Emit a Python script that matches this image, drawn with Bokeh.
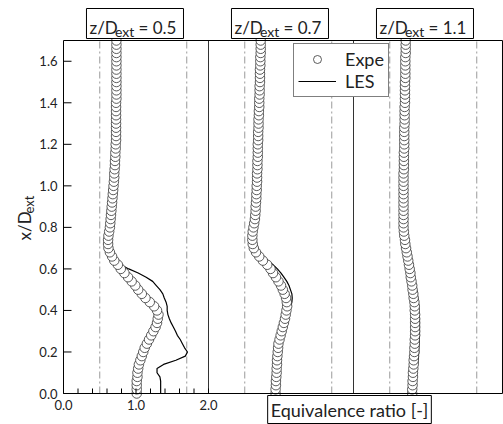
import math
from bokeh.plotting import figure
from bokeh.models import Range1d, Label, Legend, LegendItem
from bokeh.core.properties import value
from bokeh.embed import file_html
from bokeh.resources import INLINE

FONT = "Lato"

# ---------------- data ----------------
PANEL_OFFSET = [0.0, 2.0, 4.0]
PANEL_TITLE = ["0.5", "0.7", "1.1"]
DASH_REL = [0.5, 1.7]
X_TICKS = [0.0, 1.0, 2.0]
X_TICK_LABELS = ["0.0", "1.0", "2.0"]
X_MINOR = [0.2, 0.4, 0.6, 0.8, 1.2, 1.4, 1.6, 1.8]
Y_TICKS = [0.0, 0.2, 0.4, 0.6, 0.8, 1.0, 1.2, 1.4, 1.6]
Y_TICK_LABELS = ["0.0", "0.2", "0.4", "0.6", "0.8", "1.0", "1.2", "1.4", "1.6"]
X_MAX = 6.055
Y_MAX = 1.70

Y_EXP = [0.00, 0.02, 0.04, 0.06, 0.08, 0.10, 0.12, 0.14, 0.16, 0.18,
         0.20, 0.22, 0.24, 0.26, 0.28, 0.30, 0.32, 0.34, 0.36, 0.38,
         0.40, 0.42, 0.44, 0.46, 0.48, 0.50, 0.52, 0.54, 0.56, 0.58,
         0.60, 0.62, 0.64, 0.66, 0.68, 0.70, 0.72, 0.74, 0.76, 0.78,
         0.80, 0.82, 0.84, 0.86, 0.88, 0.90, 0.92, 0.94, 0.96, 0.98,
         1.00, 1.02, 1.04, 1.06, 1.08, 1.10, 1.12, 1.14, 1.16, 1.18,
         1.20, 1.22, 1.24, 1.26, 1.28, 1.30, 1.32, 1.34, 1.36, 1.38,
         1.40, 1.42, 1.44, 1.46, 1.48, 1.50, 1.52, 1.54, 1.56, 1.58,
         1.60, 1.62, 1.64, 1.66, 1.68, 1.70]

EXP_05 = [1.01, 1.01, 1.01, 1.01, 1.02, 1.02, 1.03, 1.04, 1.06, 1.08,
          1.10, 1.12, 1.15, 1.18, 1.21, 1.24, 1.27, 1.29, 1.30, 1.31,
          1.29, 1.25, 1.19, 1.13, 1.08, 1.03, 0.99, 0.94, 0.89, 0.84,
          0.79, 0.75, 0.70, 0.67, 0.64, 0.62, 0.615, 0.615, 0.62, 0.63,
          0.64, 0.645, 0.65, 0.655, 0.66, 0.665, 0.67, 0.675, 0.68, 0.685,
          0.69, 0.695, 0.70, 0.70, 0.705, 0.71, 0.71, 0.715, 0.715, 0.72,
          0.72, 0.725, 0.725, 0.725, 0.725, 0.725, 0.725, 0.725, 0.725, 0.725,
          0.725, 0.73, 0.73, 0.73, 0.73, 0.73, 0.73, 0.73, 0.73, 0.73,
          0.73, 0.73, 0.73, 0.73, 0.73, 0.73]

EXP_07 = [0.925, 0.925, 0.93, 0.93, 0.935, 0.94, 0.94, 0.945, 0.945, 0.95,
          0.955, 0.96, 0.965, 0.98, 0.995, 1.01, 1.025, 1.04, 1.055, 1.065,
          1.075, 1.085, 1.08, 1.07, 1.05, 1.025, 1.00, 0.965, 0.93, 0.89,
          0.855, 0.81, 0.75, 0.70, 0.655, 0.625, 0.61, 0.605, 0.605, 0.61,
          0.62, 0.63, 0.64, 0.645, 0.65, 0.65, 0.655, 0.66, 0.66, 0.665,
          0.665, 0.67, 0.67, 0.67, 0.675, 0.675, 0.675, 0.68, 0.68, 0.68,
          0.68, 0.685, 0.685, 0.685, 0.69, 0.69, 0.69, 0.695, 0.695, 0.70,
          0.70, 0.70, 0.705, 0.705, 0.705, 0.71, 0.71, 0.71, 0.71, 0.715,
          0.715, 0.715, 0.72, 0.72, 0.72, 0.72]

EXP_11 = [0.81, 0.81, 0.815, 0.815, 0.82, 0.82, 0.825, 0.83, 0.83, 0.835,
          0.84, 0.84, 0.845, 0.845, 0.85, 0.85, 0.85, 0.85, 0.85, 0.85,
          0.845, 0.845, 0.84, 0.83, 0.825, 0.815, 0.81, 0.80, 0.79, 0.785,
          0.775, 0.765, 0.755, 0.745, 0.735, 0.725, 0.715, 0.71, 0.70, 0.695,
          0.69, 0.69, 0.69, 0.69, 0.69, 0.69, 0.69, 0.69, 0.69, 0.69,
          0.69, 0.69, 0.69, 0.69, 0.695, 0.695, 0.695, 0.695, 0.695, 0.70,
          0.70, 0.70, 0.70, 0.70, 0.70, 0.705, 0.705, 0.705, 0.705, 0.705,
          0.71, 0.71, 0.71, 0.71, 0.71, 0.71, 0.715, 0.715, 0.715, 0.715,
          0.715, 0.715, 0.72, 0.72, 0.72, 0.72]

Y_LES = [0.00, 0.02, 0.04, 0.06, 0.08, 0.10, 0.12, 0.14, 0.16, 0.18,
         0.20, 0.22, 0.24, 0.26, 0.28, 0.30, 0.32, 0.34, 0.36, 0.38,
         0.40, 0.42, 0.44, 0.46, 0.48, 0.50, 0.52, 0.54, 0.56, 0.58,
         0.60, 0.62, 0.64, 0.66, 0.68, 0.70, 0.72, 0.74, 0.76, 0.78,
         0.80, 0.82, 0.84, 0.86, 0.88, 0.90,
         1.0, 1.1, 1.2, 1.3, 1.4, 1.5, 1.6, 1.7]

LES_05 = [1.34, 1.34, 1.34, 1.34, 1.33, 1.29, 1.29, 1.38, 1.55, 1.68,
          1.71, 1.67, 1.64, 1.61, 1.57, 1.545, 1.515, 1.485, 1.46, 1.44,
          1.43, 1.43, 1.415, 1.39, 1.37, 1.33, 1.28, 1.23, 1.14, 1.03,
          0.90, 0.79, 0.71, 0.66, 0.63, 0.61, 0.605, 0.61, 0.615, 0.625,
          0.635, 0.64, 0.645, 0.65, 0.655, 0.66,
          0.685, 0.705, 0.715, 0.72, 0.725, 0.725, 0.73, 0.73]

LES_07 = [0.90, 0.90, 0.90, 0.90, 0.90, 0.90, 0.90, 0.90, 0.90, 0.90,
          0.91, 0.93, 0.96, 0.985, 1.01, 1.03, 1.045, 1.06, 1.075, 1.09,
          1.11, 1.135, 1.15, 1.155, 1.15, 1.13, 1.11, 1.08, 1.04, 1.00,
          0.95, 0.89, 0.82, 0.76, 0.71, 0.67, 0.64, 0.625, 0.615, 0.615,
          0.62, 0.63, 0.635, 0.645, 0.65, 0.65,
          0.665, 0.675, 0.68, 0.69, 0.70, 0.71, 0.715, 0.72]

LES_11 = [0.84, 0.84, 0.85, 0.855, 0.86, 0.865, 0.875, 0.885, 0.89, 0.895,
          0.90, 0.90, 0.905, 0.905, 0.91, 0.91, 0.91, 0.91, 0.91, 0.905,
          0.90, 0.90, 0.895, 0.885, 0.88, 0.87, 0.86, 0.85, 0.84, 0.83,
          0.82, 0.805, 0.79, 0.775, 0.76, 0.745, 0.73, 0.72, 0.71, 0.70,
          0.695, 0.695, 0.695, 0.695, 0.695, 0.695,
          0.695, 0.70, 0.70, 0.705, 0.71, 0.71, 0.715, 0.72]

EXP = [EXP_05, EXP_07, EXP_11]
LES = [LES_05, LES_07, LES_11]

# ---------------- scales (pixels per data unit) ----------------
SX = 72.5
SY = 353 / Y_MAX
def dx(px):
    return px / SX
def dy(px):
    return px / SY

TXT = "#222222"

p = figure(width=503, height=424, output_backend="svg", toolbar_location=None,
           x_range=Range1d(-dx(63), dx(440)), y_range=Range1d(-dy(31), dy(393)),
           x_axis_location=None, y_axis_location=None,
           min_border=0, min_border_left=0, min_border_right=0,
           min_border_top=0, min_border_bottom=0)
p.outline_line_color = None
p.background_fill_color = "white"
p.border_fill_color = "white"
p.grid.visible = False

# reference lines (dash-dot bounds and panel separators)
dash_x = [off + d for off in PANEL_OFFSET for d in DASH_REL]
p.segment(x0=dash_x, y0=0, x1=dash_x, y1=Y_MAX, line_color="#9a9a9a",
          line_width=1, line_dash="7 3 2 3")
sep_x = PANEL_OFFSET[1:]
p.segment(x0=sep_x, y0=0, x1=sep_x, y1=Y_MAX, line_color="#333333", line_width=1)

# data
r_line = None
r_circ = None
for off, ex, les in zip(PANEL_OFFSET, EXP, LES):
    rl = p.line([off + v for v in les], Y_LES, line_color="black", line_width=1.2)
    rc = p.scatter([off + v for v in ex], Y_EXP, marker="circle", size=9.5,
                   fill_color="white", line_color="#333333", line_width=0.8)
    if r_line is None:
        r_line, r_circ = rl, rc

# frame border
p.quad(left=[0], right=[X_MAX], bottom=[0], top=[Y_MAX], fill_color=None,
       line_color="black", line_width=1)

# ticks (inward)
xt = X_TICKS + X_MINOR
p.segment(x0=xt, y0=0, x1=xt, y1=dy(5), line_color="black", line_width=1)
p.segment(x0=0, y0=Y_TICKS, x1=dx(8), y1=Y_TICKS, line_color="black", line_width=1)

# tick labels
p.text(x=X_TICKS, y=[-dy(11)] * len(X_TICKS), text=X_TICK_LABELS,
       text_align="center", text_baseline="middle", text_font=value(FONT),
       text_font_size=value("13px"), text_color=TXT)
p.text(x=[-dx(6)] * len(Y_TICKS), y=Y_TICKS, text=Y_TICK_LABELS,
       text_align="right", text_baseline="middle", text_font=value(FONT),
       text_font_size=value("13px"), text_color=TXT)

# panel titles z/D_ext = ...
p.quad(left=[off + 0.317 for off in PANEL_OFFSET],
       right=[off + 1.655 for off in PANEL_OFFSET],
       bottom=Y_MAX + dy(2), top=Y_MAX + dy(32),
       fill_color="white", line_color="black", line_width=1)
for off, t in zip(PANEL_OFFSET, PANEL_TITLE):
    p.add_layout(Label(x=off + dx(26), y=Y_MAX + dy(13), text="z/D",
                       text_align="left", text_baseline="alphabetic",
                       text_font=FONT, text_font_size="17px", text_color=TXT))
    p.add_layout(Label(x=off + dx(51.5), y=Y_MAX + dy(9), text="ext",
                       text_align="left", text_baseline="alphabetic",
                       text_font=FONT, text_font_size="14px", text_color=TXT))
    p.add_layout(Label(x=off + dx(75), y=Y_MAX + dy(13), text="= " + t,
                       text_align="left", text_baseline="alphabetic",
                       text_font=FONT, text_font_size="17px", text_color=TXT))

# y axis title x/D_ext (rotated)
p.add_layout(Label(x=-dx(39), y=dy(153), text="x/D", angle=math.pi / 2,
                   text_align="left", text_baseline="alphabetic", text_font=FONT,
                   text_font_size="17px", text_color=TXT))
p.add_layout(Label(x=-dx(35), y=dy(180), text="ext", angle=math.pi / 2,
                   text_align="left", text_baseline="alphabetic", text_font=FONT,
                   text_font_size="13px", text_color=TXT))

# x axis title in a box
p.add_layout(Label(x=dx(286), y=-dy(16), text="Equivalence ratio [-]",
                   text_align="center", text_baseline="middle", text_font=FONT,
                   text_font_size="18px", text_color=TXT,
                   border_line_color="black", border_line_width=1,
                   background_fill_color="white", background_fill_alpha=1,
                   padding=3))

# legend
legend = Legend(items=[LegendItem(label="Expe", renderers=[r_circ]),
                       LegendItem(label="LES", renderers=[r_line])],
                location=(293, 327), orientation="vertical",
                glyph_width=38, glyph_height=20, label_height=20,
                label_standoff=9, padding=4, spacing=0, margin=0,
                label_text_font=FONT, label_text_font_size="18px",
                label_text_color=TXT,
                border_line_color="black", border_line_width=1,
                background_fill_color="white", background_fill_alpha=1)
p.add_layout(legend, "center")

open("out.html", "w").write(file_html(p, INLINE))
